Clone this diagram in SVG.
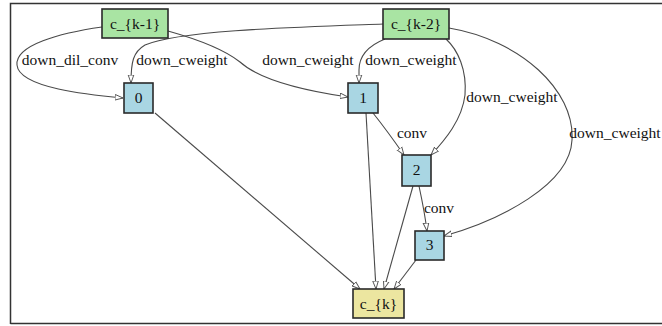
<svg xmlns="http://www.w3.org/2000/svg" width="662" height="326" viewBox="0 0 662 326">
<style>
.n rect{stroke:#2a2a2a;stroke-width:1.6}
.n text,.lbl{font-family:"Liberation Serif","Times New Roman",serif;font-size:15.5px;fill:#111}
.n text{text-anchor:middle}
.lbl{text-anchor:middle}
.e path{fill:none;stroke:#4a4a4a;stroke-width:1.1;marker-end:url(#ah)}
</style>
<defs>
<marker id="ah" viewBox="0 0 10 10" refX="10" refY="5" markerWidth="8" markerHeight="8" orient="auto" markerUnits="userSpaceOnUse">
<path d="M0,1.5 L10,5 L0,8.5 Z" fill="#fff" stroke="#555" stroke-width="1.2"/>
</marker>
</defs>
<rect x="-10" y="-10" width="690" height="350" fill="#fff"/>
<path d="M10.5,324 L10.5,3.5 L662,3.5 M10.5,323.5 L662,323.5" fill="none" stroke="#333" stroke-width="1.5"/>
<g id="edges" class="e">
<path d="M102,27 C60,33 15,45 17,65 C19,88 90,95 123,98"/>
<path d="M383,24 C300,27 180,30 145,45 C133,52 131,62 131,83"/>
<path d="M168,31 C200,40 225,50 240,62 C260,80 300,90 348,97"/>
<path d="M385,39 C370,45 359,55 359,70 L359,83"/>
<path d="M446,39 C458,50 467,70 465,95 C462,120 445,140 431,155"/>
<path d="M449,28 C520,40 575,90 572,140 C570,185 500,220 444,236"/>
<path d="M373,113 C385,128 395,142 404,155"/>
<path d="M419,186 C422,200 425,215 427,231"/>
<path d="M155,113 L360,289"/>
<path d="M366,113 L376,289"/>
<path d="M413,186 L384,289"/>
<path d="M416,260 L394,289"/>
</g>
<g id="edge-labels">
<text class="lbl" x="70" y="65">down_dil_conv</text>
<text class="lbl" x="182" y="65">down_cweight</text>
<text class="lbl" x="308" y="65">down_cweight</text>
<text class="lbl" x="411" y="65">down_cweight</text>
<text class="lbl" x="512" y="102">down_cweight</text>
<text class="lbl" x="615" y="138">down_cweight</text>
<text class="lbl" x="412" y="138">conv</text>
<text class="lbl" x="439" y="213">conv</text>
</g>
<g id="node-ck1" class="n"><rect x="102" y="9" width="66" height="29" fill="#a9e4a3"/><text x="135" y="29">c_{k-1}</text></g>
<g id="node-ck2" class="n"><rect x="383" y="9" width="66" height="30" fill="#a9e4a3"/><text x="416" y="29">c_{k-2}</text></g>
<g id="node-0" class="n"><rect x="124" y="83" width="29" height="30" fill="#a9d6e3"/><text x="138.5" y="103">0</text></g>
<g id="node-1" class="n"><rect x="348" y="83" width="30" height="30" fill="#a9d6e3"/><text x="363" y="103">1</text></g>
<g id="node-2" class="n"><rect x="402" y="155" width="29" height="31" fill="#a9d6e3"/><text x="416.5" y="175">2</text></g>
<g id="node-3" class="n"><rect x="415" y="231" width="29" height="29" fill="#a9d6e3"/><text x="429.5" y="250">3</text></g>
<g id="node-ck" class="n"><rect x="353" y="289" width="51" height="29" fill="#ece6a0"/><text x="378.5" y="309">c_{k}</text></g>
</svg>
